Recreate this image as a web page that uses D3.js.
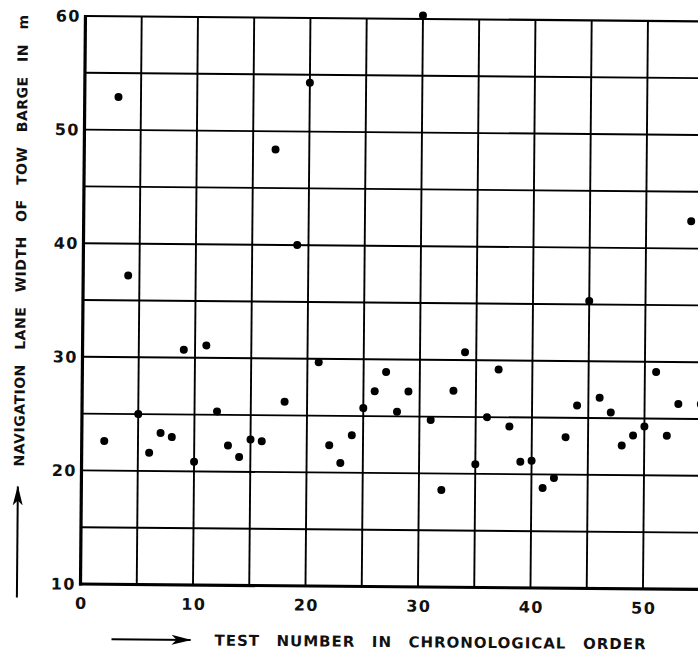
<!DOCTYPE html>
<html>
<head>
<meta charset="utf-8">
<script src="https://cdn.jsdelivr.net/npm/d3@7/dist/d3.min.js"></script>
<style>
  html, body { margin: 0; padding: 0; background: #fff; }
  svg { display: block; }
  text { font-family: "DejaVu Sans", sans-serif; fill: #111; }
</style>
</head>
<body>
<svg id="chart" width="698" height="658"></svg>
<script>
// Test numbers in chronological order and the measured lane width (m)
const testNumbers = [2, 3, 4, 5, 6, 7, 8, 9, 10, 11, 12, 13, 14, 15, 16, 17, 18, 19, 20,
  21, 22, 23, 24, 25, 26, 27, 28, 29, 30, 31, 32, 33, 34, 35, 36, 37, 38, 39, 40,
  41, 42, 43, 44, 45, 46, 47, 48, 49, 50, 51, 52, 53, 54, 55];
const laneWidths = [22.6, 52.9, 37.2, 25.0, 21.6, 23.35, 23.0, 30.7, 20.85, 31.1,
  25.3, 22.3, 21.3, 22.85, 22.7, 48.4, 26.2, 40.0, 54.3, 29.7,
  22.4, 20.85, 23.3, 25.7, 27.2, 28.9, 25.4, 27.2, 60.3, 24.7,
  18.55, 27.3, 30.7, 20.85, 25.0, 29.2, 24.2, 21.1, 21.2, 18.8,
  19.7, 23.3, 26.1, 35.3, 26.8, 25.5, 22.6, 23.5, 24.3, 29.1,
  23.5, 26.3, 42.4, 26.3];

const xTickValues = [0, 10, 20, 30, 40, 50];
const yTickValues = [10, 20, 30, 40, 50, 60];
const xGridValues = [5, 10, 15, 20, 25, 30, 35, 40, 45, 50, 55];
const yGridValues = [15, 20, 25, 30, 35, 40, 45, 50, 55];

const xTitle = "TEST NUMBER IN CHRONOLOGICAL ORDER";
const yTitle = "NAVIGATION LANE WIDTH OF TOW BARGE IN m";

const svg = d3.select("#chart");
svg.append("rect").attr("width", 698).attr("height", 658).attr("fill", "#fff");

const x = d3.scaleLinear().domain([0, 50]).range([80.5, 643]);
const y = d3.scaleLinear().domain([10, 60]).range([584, 16]);
const xEnd = 57; // grid runs past the right edge of the sheet

// the whole sheet sits slightly askew
const g = svg.append("g").attr("transform", "rotate(0.5, 80.5, 584)");

// grid
g.append("g").selectAll("line").data(xGridValues).join("line")
  .attr("x1", d => x(d)).attr("x2", d => x(d))
  .attr("y1", y(10)).attr("y2", y(60))
  .attr("stroke", "#000").attr("stroke-width", 1.9);
g.append("g").selectAll("line").data(yGridValues).join("line")
  .attr("x1", x(0)).attr("x2", x(xEnd))
  .attr("y1", d => y(d)).attr("y2", d => y(d))
  .attr("stroke", "#000").attr("stroke-width", 1.9);
// top border
g.append("line").attr("x1", x(0)).attr("x2", x(xEnd))
  .attr("y1", y(60)).attr("y2", y(60))
  .attr("stroke", "#000").attr("stroke-width", 2.2);
// axes
g.append("line").attr("x1", x(0)).attr("x2", x(0))
  .attr("y1", y(60) - 1).attr("y2", y(10) + 1.5)
  .attr("stroke", "#000").attr("stroke-width", 3.2);
g.append("line").attr("x1", x(0) - 1.5).attr("x2", x(xEnd))
  .attr("y1", y(10)).attr("y2", y(10))
  .attr("stroke", "#000").attr("stroke-width", 3.2);

// tick labels
const tickFont = sel => sel.style("font-size", "16px").style("font-weight", "bold")
  .style("letter-spacing", "1.5px");
g.append("g").selectAll("text").data(yTickValues).join("text")
  .attr("x", 76).attr("y", d => y(d)).attr("dy", "0.36em")
  .attr("text-anchor", "end")
  .call(tickFont)
  .text(d => d);
g.append("g").selectAll("text").data(xTickValues).join("text")
  .attr("x", d => x(d) + 1).attr("y", 603).attr("dy", "0.36em")
  .attr("text-anchor", "middle")
  .call(tickFont)
  .text(d => d);

// points
g.append("g").selectAll("circle").data(testNumbers).join("circle")
  .attr("cx", d => x(d)).attr("cy", (d, i) => y(laneWidths[i]))
  .attr("r", 4).attr("fill", "#000");

// spread the words of a title so it fills a given run
function spreadWords(text, length) {
  const natural = text.node().getComputedTextLength();
  const gaps = text.text().split(" ").length - 1;
  text.style("word-spacing", ((length - natural) / gaps) + "px");
}

// axis titles with direction arrows
const defs = svg.append("defs");
defs.append("marker").attr("id", "head")
  .attr("viewBox", "0 0 20 12").attr("refX", 19).attr("refY", 6)
  .attr("markerWidth", 20).attr("markerHeight", 12)
  .attr("markerUnits", "userSpaceOnUse").attr("orient", "auto")
  .append("path").attr("d", "M0,1 L20,6 L0,11 L5,6 Z").attr("fill", "#000");

g.append("line").attr("x1", 112).attr("x2", 191).attr("y1", 639).attr("y2", 639)
  .attr("stroke", "#000").attr("stroke-width", 2).attr("marker-end", "url(#head)");
const xt = g.append("text").attr("x", 215).attr("y", 639).attr("dy", "0.36em")
  .style("font-size", "15px").style("font-weight", "bold").style("letter-spacing", "1px")
  .text(xTitle);
spreadWords(xt, 432);

g.append("line").attr("x1", 17).attr("x2", 17).attr("y1", 598).attr("y2", 487)
  .attr("stroke", "#000").attr("stroke-width", 2).attr("marker-end", "url(#head)");
const yt = g.append("text")
  .attr("transform", "translate(18,467) rotate(-90)")
  .attr("dy", "0.36em")
  .style("font-size", "14px").style("font-weight", "bold").style("letter-spacing", "0.5px")
  .text(yTitle);
spreadWords(yt, 452);
</script>
</body>
</html>
